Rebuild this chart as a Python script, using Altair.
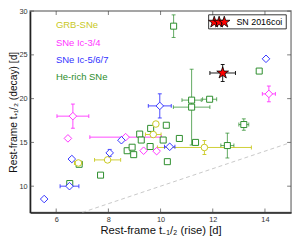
import math
import altair as alt
import pandas as pd

# ---- data ----
grb_x = [6.85, 7.97, 9.72, 9.82, 11.68]
grb_y = [12.65, 13.0, 15.9, 17.1, 14.42]
grb_xerr = [0.15, 0.5, 0.3, 0.0, 1.8]
grb_yerr = [0.0, 0.0, 0.0, 0.0, 0.8]

ic34_x = [6.64, 6.45, 8.66, 9.35, 9.85, 14.15]
ic34_y = [18.0, 15.46, 15.6, 14.05, 14.0, 20.54]
ic34_xerr = [0.61, 0.0, 1.37, 0.0, 0.0, 0.25]
ic34_yerr = [1.38, 0.0, 0.0, 0.0, 0.0, 0.9]

ic567_x = [5.54, 6.51, 6.6, 8.05, 8.5, 9.97, 10.35, 14.04]
ic567_y = [8.53, 10.0, 13.1, 13.8, 15.25, 19.17, 14.5, 24.55]
ic567_xerr = [0.0, 0.36, 0.0, 0.0, 0.0, 0.44, 0.2, 0.0]
ic567_yerr = [0.0, 0.0, 0.0, 0.4, 0.0, 1.38, 0.0, 0.0]

he_x = [6.52, 6.88, 7.7, 8.72, 8.91, 8.97, 9.2, 9.26, 9.6, 9.62, 10.1,
        10.22, 10.26, 10.5, 10.72, 11.19, 11.19, 11.34, 11.88, 12.56, 13.19, 13.78]
he_y = [10.3, 12.5, 11.26, 14.05, 14.45, 13.6, 15.95, 15.27, 14.53, 16.6, 15.27,
        16.96, 12.8, 28.28, 15.45, 19.83, 19.03, 15.0, 19.93, 14.64, 17.04, 23.15]
he_xerr = [0, 0, 0, 0, 0, 0, 0, 0, 0, 0, 0, 0, 0, 0, 0, 0.37, 0.7, 0, 0.27, 0.25, 0.19, 0]
he_yerr = [0, 0, 0, 0, 0, 0, 0, 0, 0, 0, 0, 0, 0, 1.29, 0, 0, 4.33, 0, 0, 1.42, 0.65, 0]

coi_x = [12.38]
coi_y = [22.93]
coi_xerr = [0.49]
coi_yerr = [0.97]

diag = [7, 15]
x_ticks = [6, 8, 10, 12, 14]
y_ticks = [10, 15, 20, 25, 30]

legend_labels = ["GRB-SNe", "SNe Ic-3/4", "SNe Ic-5/6/7", "He-rich SNe"]
coi_label = "SN 2016coi"

# ---- styling ----
W, H = 267, 206
FONT = "Liberation Sans"
C_HE, C_GRB, C_34, C_567 = "#2a8c2a", "#c8c81e", "#ff33ff", "#3333ff"

pts = []
for i in range(10):
    a = -math.pi / 2 + i * math.pi / 5
    r = 1.0 if i % 2 == 0 else 0.382
    pts.append((r * math.cos(a), r * math.sin(a)))
STAR = "M" + "L".join(f"{px:.3f},{py:.3f}" for px, py in pts) + "Z"

xaxis = alt.Axis(values=x_ticks, grid=False, ticks=False, domainColor="#222",
                 domainWidth=1.5, labelFontSize=7.5, labelColor="#333", labelPadding=3,
                 labelFont=FONT, title="Rest-frame t\u208b\u2081/\u2082 (rise) [d]",
                 titleFont=FONT, titleFontSize=11.5, titleFontWeight="normal",
                 titlePadding=2, titleColor="#111")
yaxis = alt.Axis(values=y_ticks, grid=False, ticks=False, domainColor="#222",
                 domainWidth=1.5, labelFontSize=7.5, labelColor="#333", labelPadding=3,
                 labelFont=FONT, title="Rest-frame t\u208a\u2081/\u2082 (decay) [d]",
                 titleFont=FONT, titleFontSize=10.5, titleFontWeight="normal",
                 titlePadding=0.5, titleColor="#111")
xs = alt.Scale(domain=[5, 15], nice=False, zero=False)
ys = alt.Scale(domain=[7, 30], nice=False, zero=False)


def X(f):
    return alt.X(f, type="quantitative", scale=xs, axis=xaxis)


def Y(f):
    return alt.Y(f, type="quantitative", scale=ys, axis=yaxis)


def frame(xv, yv, xe, ye):
    d = pd.DataFrame({"x": xv, "y": yv, "xe": xe, "ye": ye})
    d["xlo"] = d.x - d.xe
    d["xhi"] = d.x + d.xe
    d["ylo"] = d.y - d.ye
    d["yhi"] = d.y + d.ye
    return d


series = [
    (frame(he_x, he_y, he_xerr, he_yerr), C_HE, "white", "square", 38, 1.0, 0.75),
    (frame(grb_x, grb_y, grb_xerr, grb_yerr), C_GRB, "white", "circle", 45, 1.0, 0.9),
    (frame(ic34_x, ic34_y, ic34_xerr, ic34_yerr), C_34, "white", "diamond", 60, 1.0, 0.9),
    (frame(ic567_x, ic567_y, ic567_xerr, ic567_yerr), C_567, "white", "diamond", 60, 1.0, 0.9),
    (frame(coi_x, coi_y, coi_xerr, coi_yerr), "#000", "#ff0000", STAR, 160, 0.8, 0.9),
]

layers = []
layers.append(
    alt.Chart(pd.DataFrame({"x": diag, "y": diag}))
    .mark_line(color="#c8c8c8", strokeDash=[4, 3], strokeWidth=1, clip=True)
    .encode(x=X("x"), y=Y("y"))
)

for d, col, fill, shape, size, sw, op in series:
    dx = d[d.xe > 0]
    dy = d[d.ye > 0]
    if len(dx):
        layers.append(alt.Chart(dx).mark_rule(color=col, opacity=op, strokeWidth=1)
                      .encode(x=X("xlo"), x2="xhi", y=Y("y")))
        for f in ["xlo", "xhi"]:
            layers.append(alt.Chart(dx).mark_tick(color=col, opacity=op, orient="vertical",
                                                  size=4, thickness=1)
                          .encode(x=X(f), y=Y("y")))
    if len(dy):
        layers.append(alt.Chart(dy).mark_rule(color=col, opacity=op, strokeWidth=1)
                      .encode(x=X("x"), y=Y("ylo"), y2="yhi"))
        for f in ["ylo", "yhi"]:
            layers.append(alt.Chart(dy).mark_tick(color=col, opacity=op, orient="horizontal",
                                                  size=4, thickness=1)
                          .encode(x=X("x"), y=Y(f)))

for d, col, fill, shape, size, sw, op in series:
    layers.append(alt.Chart(d).mark_point(shape=shape, filled=True, fill=fill, stroke=col,
                                          strokeWidth=sw, size=size, opacity=1,
                                          fillOpacity=1)
                  .encode(x=X("x"), y=Y("y")))

# inward ticks on all four sides
xt = pd.DataFrame({"v": x_ticks})
yt = pd.DataFrame({"v": y_ticks})
for yv in [2, H - 2]:
    layers.append(alt.Chart(xt).mark_tick(color="#444", orient="vertical", size=4, thickness=1)
                  .encode(x=X("v"), y=alt.value(yv)))
for xv in [2, W - 2]:
    layers.append(alt.Chart(yt).mark_tick(color="#444", orient="horizontal", size=4, thickness=1)
                  .encode(y=Y("v"), x=alt.value(xv)))

one = alt.Data(values=[{}])
# text legend at upper left
for lab, col, yy in zip(legend_labels, [C_GRB, C_34, C_567, C_HE], [14.8, 32.2, 49.8, 67.5]):
    layers.append(alt.Chart(one).mark_text(align="left", baseline="middle", font=FONT,
                                           fontSize=9.7, color=col)
                  .encode(x=alt.value(26.4), y=alt.value(yy), text=alt.value(lab)))

# SN 2016coi legend box
layers.append(alt.Chart(one).mark_rect(fill="white", stroke="#000", strokeWidth=0.8)
              .encode(x=alt.value(182.7), x2=alt.value(262.1), y=alt.value(3.8), y2=alt.value(18.2)))
for sx in [188.4, 193.4, 198.7]:
    layers.append(alt.Chart(one).mark_point(shape=STAR, filled=True, fill="#ff0000", stroke="#000",
                                            strokeWidth=0.8, size=150, opacity=1)
                  .encode(x=alt.value(sx), y=alt.value(11.3)))
layers.append(alt.Chart(one).mark_text(align="left", baseline="middle", font=FONT, fontSize=9.1,
                                       color="#000")
              .encode(x=alt.value(211.1), y=alt.value(11.5), text=alt.value(coi_label)))

chart = (
    alt.layer(*layers)
    .properties(width=W, height=H, autosize=alt.AutoSizeParams(type="none"),
                padding={"left": 22.6, "top": 0.5, "right": 2, "bottom": 24})
    .configure_view(stroke="#888", strokeWidth=1.5)
)

chart.save("out.html", embed_options={"renderer": "svg", "actions": False})
